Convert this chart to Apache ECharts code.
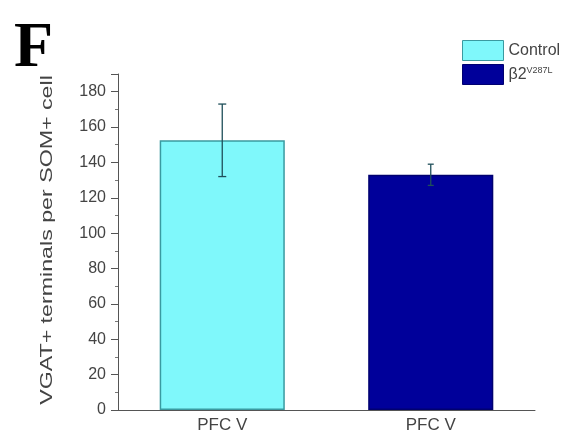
<!DOCTYPE html>
<html><head><meta charset="utf-8">
<script src="https://cdn.jsdelivr.net/npm/echarts@6/dist/echarts.min.js"></script>
<style>html,body{margin:0;padding:0;background:#fff}#c{width:572px;height:439px}</style>
</head><body><div id="c"></div>
<script>
var categories = ['PFC V', 'PFC V'];
var seriesNames = ['Control', 'β2V287L'];
var means = [152.5, 133];
var errors = [20.5, 6];
var yTicks = [0, 20, 40, 60, 80, 100, 120, 140, 160, 180];
var yTitle = 'VGAT+ terminals per SOM+ cell';
var colors = ['#7ff8fb', '#00009a'];
var borders = ['#3a9aa0', '#000070'];

var chart = echarts.init(document.getElementById('c'));
var barSeries = seriesNames.map(function (name, i) {
  var d = categories.map(function (c, j) { return j === i ? means[j] : '-'; });
  return {
    name: name, type: 'bar', data: d, barWidth: '60%', barGap: '-100%',
    itemStyle: { color: colors[i], borderColor: borders[i], borderWidth: 1.5 },
    z: 2
  };
});
var errData = means.map(function (m, j) { return [j, m - errors[j], m + errors[j]]; });
chart.setOption({
  animation: false,
  backgroundColor: '#fff',
  grid: { left: 118, right: 37, top: 74, bottom: 29, containLabel: false },
  graphic: [{
    type: 'text', left: 14, top: 17,
    style: { text: 'F', font: 'bold 64px "Liberation Serif"', fill: '#000' }
  }, {
    type: 'text', x: 48, y: 240, rotation: Math.PI / 2, scaleX: 1.45, scaleY: 1,
    style: {
      text: yTitle, font: '16px "Liberation Sans"', fill: '#444',
      align: 'center', verticalAlign: 'middle'
    }
  }],
  legend: {
    orient: 'vertical', left: 457, top: 35, itemWidth: 41, itemHeight: 20, itemGap: 3,
    icon: 'rect',
    data: seriesNames.map(function (n, i) {
      return { name: n, itemStyle: { borderColor: borders[i], borderWidth: 1 } };
    }),
    formatter: function (n) {
      return n === 'Control' ? n : '{b|β2}{s|V287L}';
    },
    textStyle: {
      fontFamily: 'Liberation Sans', fontSize: 16, color: '#444',
      rich: {
        b: { fontFamily: 'Liberation Sans', fontSize: 16, color: '#444', verticalAlign: 'bottom' },
        s: { fontFamily: 'Liberation Sans', fontSize: 9, color: '#444', verticalAlign: 'top', padding: [0, 0, 8, 0] }
      }
    }
  },
  xAxis: {
    type: 'category', data: categories,
    axisLine: { lineStyle: { color: '#555', width: 1 } },
    axisTick: { alignWithLabel: true, length: 4, lineStyle: { color: '#555' } },
    axisLabel: { fontFamily: 'Liberation Sans', fontSize: 17, color: '#444', margin: 7 }
  },
  yAxis: {
    type: 'value', min: 0, max: 190, interval: 20,
    axisLine: { show: true, lineStyle: { color: '#555', width: 1 } },
    axisTick: { show: true, inside: false, length: 7, lineStyle: { color: '#555' } },
    minorTick: { show: true, splitNumber: 2, length: 3, lineStyle: { color: '#777' } },
    splitLine: { show: false },
    axisLabel: {
      fontFamily: 'Liberation Sans', fontSize: 16, color: '#444', margin: 12,
      formatter: function (v) { return yTicks.indexOf(v) >= 0 ? String(v) : ''; }
    }
  },
  series: barSeries.concat([{
    type: 'custom', z: 5, silent: true,
    data: errData,
    encode: { x: 0, y: [1, 2] },
    renderItem: function (params, api) {
      var x = api.value(0);
      var lo = api.coord([x, api.value(1)]);
      var hi = api.coord([x, api.value(2)]);
      var cap = params.dataIndex === 0 ? 4 : 3;
      var st = { stroke: '#1f4f5a', lineWidth: 1.3 };
      return {
        type: 'group', children: [
          { type: 'line', shape: { x1: lo[0], y1: lo[1], x2: hi[0], y2: hi[1] }, style: st },
          { type: 'line', shape: { x1: lo[0] - cap, y1: lo[1], x2: lo[0] + cap, y2: lo[1] }, style: st },
          { type: 'line', shape: { x1: hi[0] - cap, y1: hi[1], x2: hi[0] + cap, y2: hi[1] }, style: st }
        ]
      };
    }
  }])
});
</script></body></html>
